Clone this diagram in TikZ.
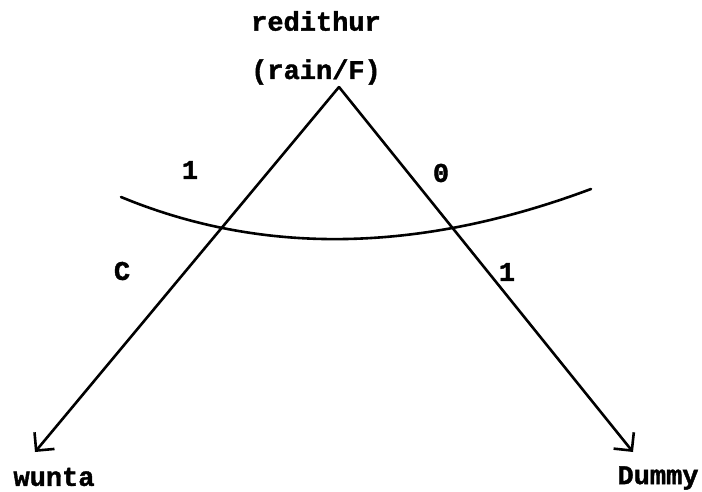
\documentclass[tikz,border=0pt]{standalone}
\usepackage{fontspec}
\setmonofont{Liberation Mono}[BoldFeatures={FakeBold=1.5}]
\usetikzlibrary{arrows.meta}
\tikzset{
  lbl/.style={font=\fontsize{27}{27}\selectfont\ttfamily\bfseries, inner sep=0pt},
  edge/.style={line width=2.6pt, line cap=round},
  arr/.style={edge, -{Straight Barb[length=13pt,width=26pt,line width=2.6pt]}}
}
\begin{document}
\begin{tikzpicture}[x=1pt,y=-1pt]
\useasboundingbox (0,0) rectangle (702,491);
\node[lbl] (top1) at (316,21) {redithur};
\node[lbl] (top2) at (316,72) {(rain/F)};
\node[lbl] (wunta) at (54,477) {wunta};
\node[lbl] (dummy) at (658,478) {Dummy};
\coordinate (apex) at (339,87);
\coordinate (lt) at (35,452);
\coordinate (rt) at (633,452);
\coordinate (cl) at (121,197);
\coordinate (cr) at (591,189);
\draw[arr] (apex) -- (lt);
\draw[arr] (apex) -- (rt);
\draw[edge] (cl) .. controls (263,255.7) and (419.7,253) .. (cr);
\node[lbl] (l1) at (190,170) {1};
\node[lbl] (l0) at (441,173) {0};
\node[lbl] (lc) at (122,271) {C};
\node[lbl] (r1) at (507,272) {1};
\end{tikzpicture}
\end{document}
